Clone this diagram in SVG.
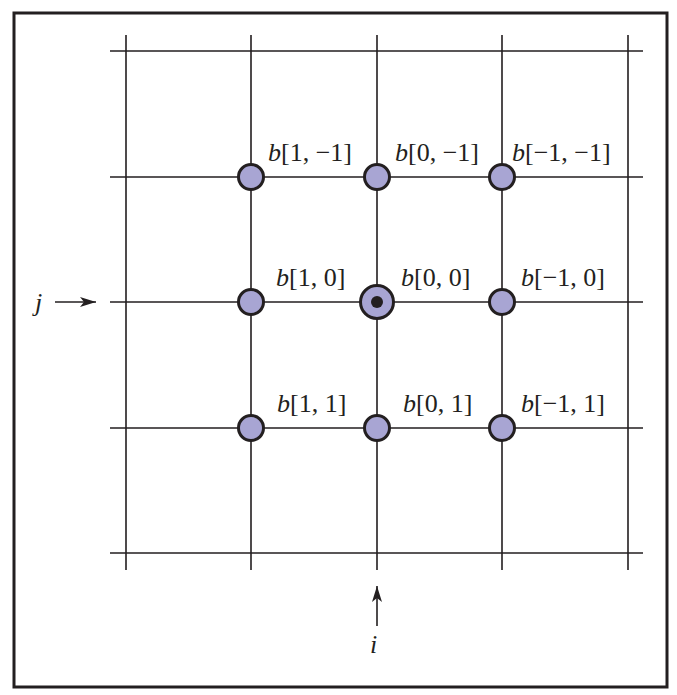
<svg xmlns="http://www.w3.org/2000/svg" width="677" height="695" viewBox="0 0 677 695">
<style>
.g{stroke:#231f20;stroke-width:1.6;fill:none}
.n{fill:#a8a5d3;stroke:#231f20;stroke-width:3}
.t{font-family:"Liberation Serif",serif;font-size:26px;fill:#231f20}
.b{font-style:italic}
</style>
<defs>
<marker id="ah" viewBox="0 0 16 10" refX="16" refY="5" markerWidth="16" markerHeight="10" markerUnits="userSpaceOnUse" orient="auto">
<path d="M0,0 L16,5 L0,10 L4,5 Z" fill="#231f20"/>
</marker>
</defs>
<rect x="14" y="13" width="653" height="674" fill="#fff" stroke="#231f20" stroke-width="3"/>
<g id="connectors">
<path class="g" d="M126,35V570M251,35V570M377,35V570M502,35V570M628,35V570"/>
<path class="g" d="M110,51H643M110,177H643M110,302H643M110,428H643M110,553H643"/>
<path class="g" d="M55,302H96" marker-end="url(#ah)"/>
<path class="g" d="M377,626V586" marker-end="url(#ah)"/>
</g>
<g id="n1"><circle class="n" cx="251" cy="177" r="12.5"/><text class="t" x="268" y="161"><tspan class="b">b</tspan>[1, −1]</text></g>
<g id="n2"><circle class="n" cx="377" cy="177" r="12.5"/><text class="t" x="395" y="161"><tspan class="b">b</tspan>[0, −1]</text></g>
<g id="n3"><circle class="n" cx="502" cy="177" r="12.5"/><text class="t" x="512" y="161"><tspan class="b">b</tspan>[−1, −1]</text></g>
<g id="n4"><circle class="n" cx="251" cy="302" r="12.5"/><text class="t" x="276" y="286"><tspan class="b">b</tspan>[1, 0]</text></g>
<g id="n5"><circle class="n" cx="377" cy="302" r="16.5" stroke-width="3.5"/><circle cx="377" cy="302" r="6" fill="#231f20"/><text class="t" x="401" y="286"><tspan class="b">b</tspan>[0, 0]</text></g>
<g id="n6"><circle class="n" cx="502" cy="302" r="12.5"/><text class="t" x="521" y="286"><tspan class="b">b</tspan>[−1, 0]</text></g>
<g id="n7"><circle class="n" cx="251" cy="428" r="12.5"/><text class="t" x="277" y="412"><tspan class="b">b</tspan>[1, 1]</text></g>
<g id="n8"><circle class="n" cx="377" cy="428" r="12.5"/><text class="t" x="403" y="412"><tspan class="b">b</tspan>[0, 1]</text></g>
<g id="n9"><circle class="n" cx="502" cy="428" r="12.5"/><text class="t" x="521" y="412"><tspan class="b">b</tspan>[−1, 1]</text></g>
<g id="labels">
<text class="t b" x="35" y="311">j</text>
<text class="t b" x="370" y="653">i</text>
</g>
</svg>
